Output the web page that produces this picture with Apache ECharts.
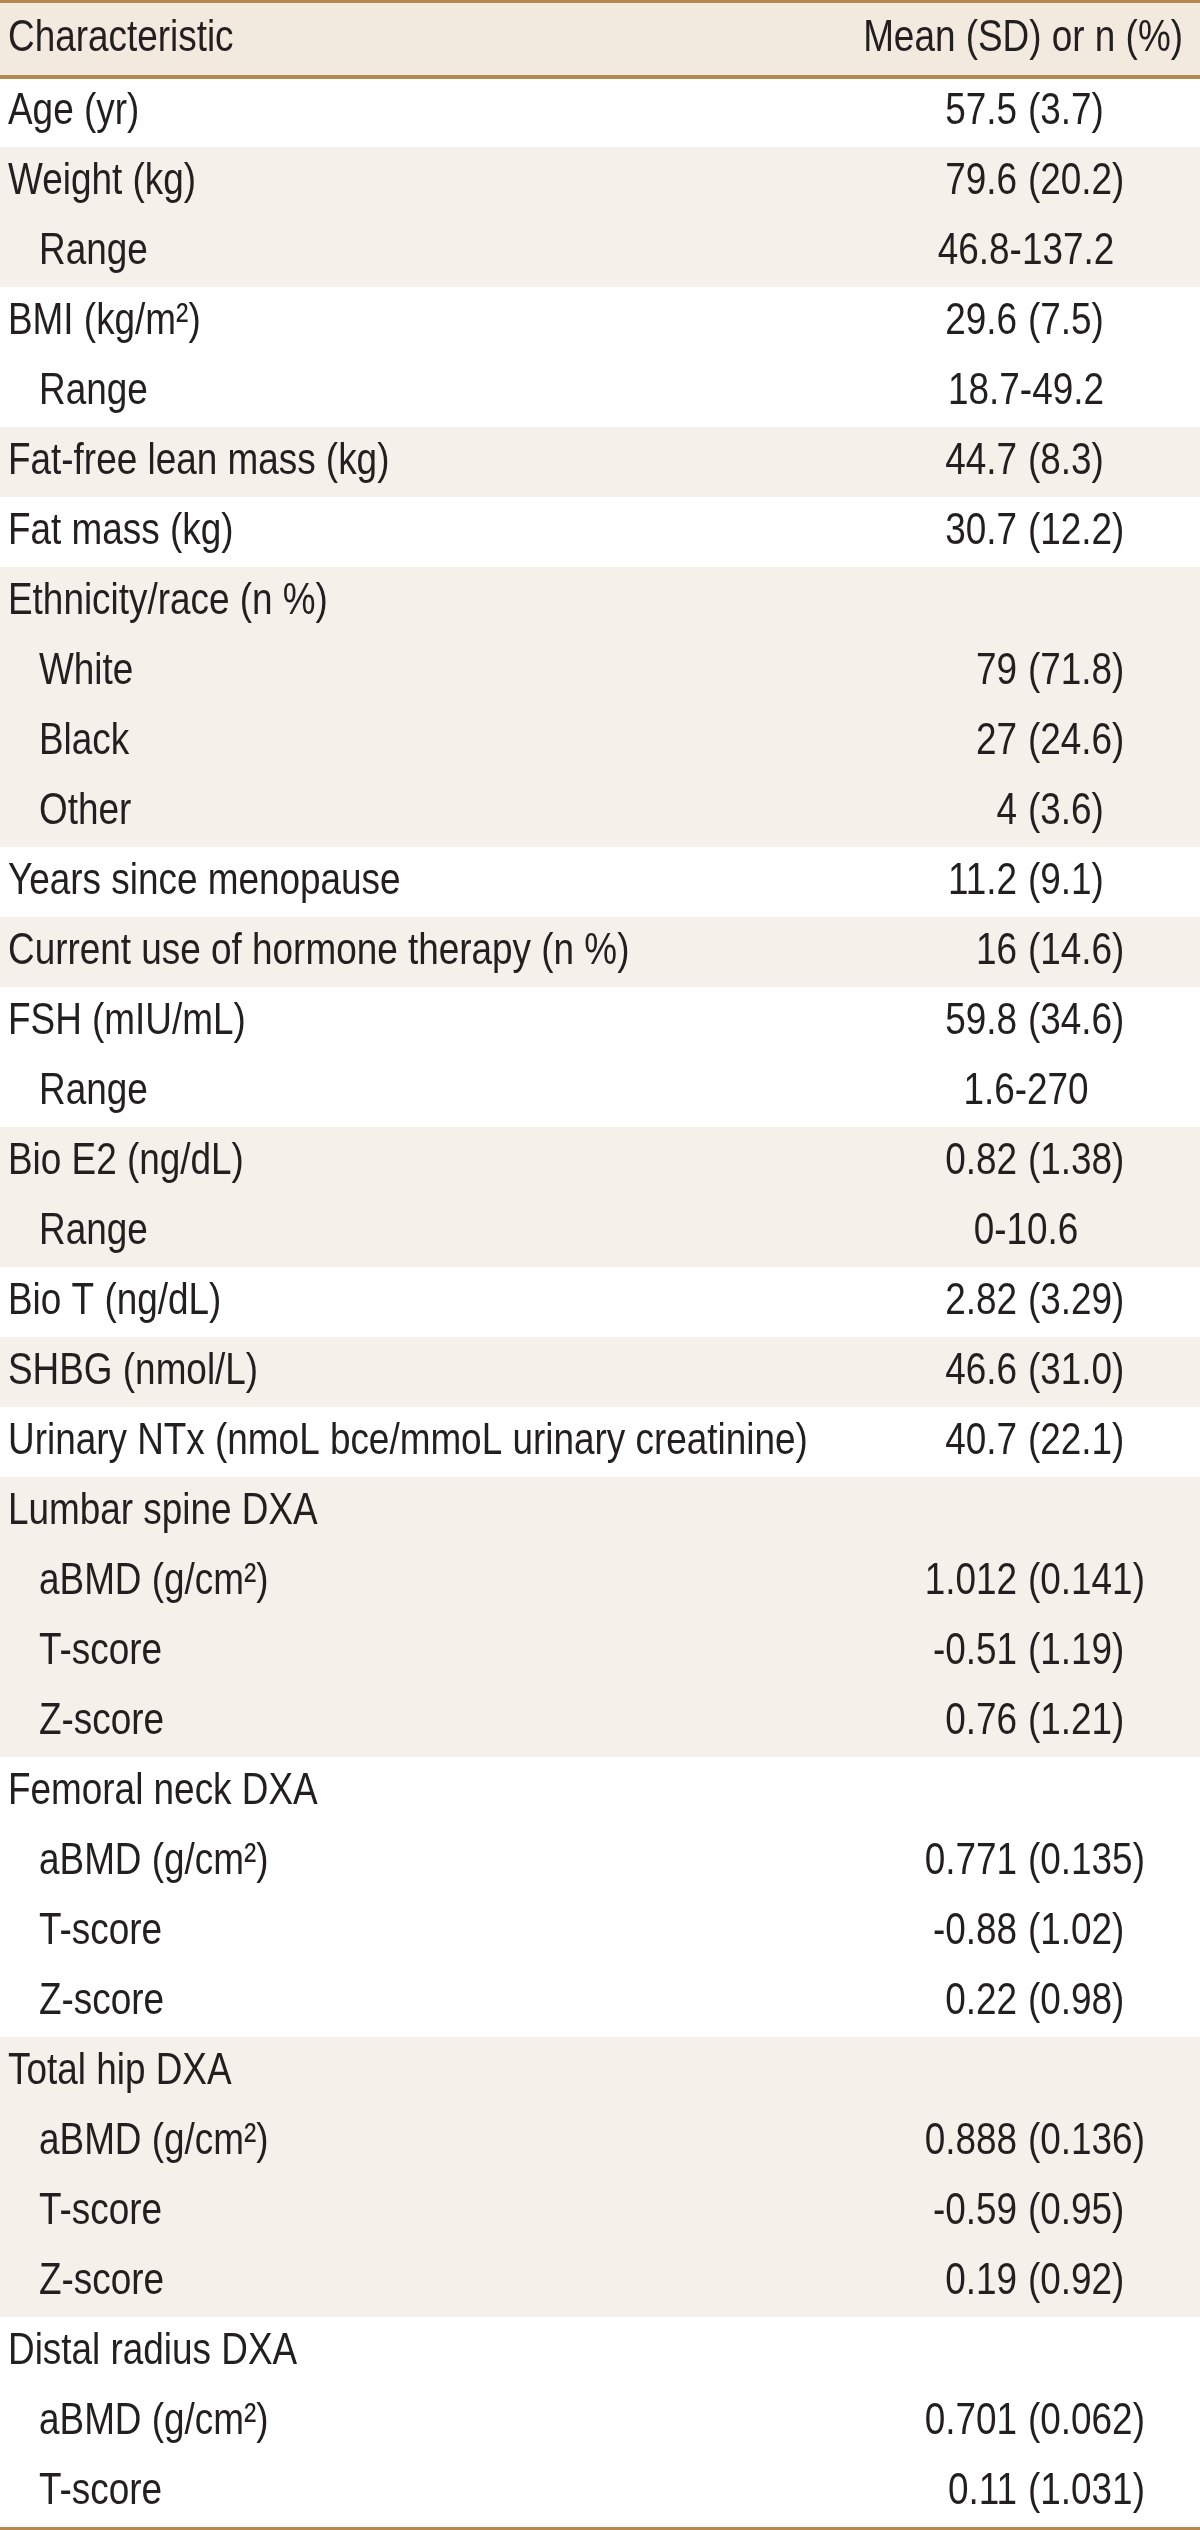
<!DOCTYPE html>
<html>
<head>
<meta charset="utf-8">
<script src="https://cdn.jsdelivr.net/npm/echarts@6/dist/echarts.min.js"></script>
<style>
html,body{margin:0;padding:0;background:#ffffff;}
#chart{width:1200px;height:2530px;}
</style>
</head>
<body>
<div id="chart"></div>
<script>
// ---- data ----
const headerLabels = ['Characteristic', 'Mean (SD) or n (%)'];

const rowLabels = [
  'Age (yr)', 'Weight (kg)', 'Range', 'BMI (kg/m\u00B2)', 'Range',
  'Fat-free lean mass (kg)', 'Fat mass (kg)', 'Ethnicity/race (n %)', 'White', 'Black', 'Other',
  'Years since menopause', 'Current use of hormone therapy (n %)',
  'FSH (mIU/mL)', 'Range', 'Bio E2 (ng/dL)', 'Range', 'Bio T (ng/dL)', 'SHBG (nmol/L)',
  'Urinary NTx (nmoL bce/mmoL urinary creatinine)',
  'Lumbar spine DXA', 'aBMD (g/cm\u00B2)', 'T-score', 'Z-score',
  'Femoral neck DXA', 'aBMD (g/cm\u00B2)', 'T-score', 'Z-score',
  'Total hip DXA', 'aBMD (g/cm\u00B2)', 'T-score', 'Z-score',
  'Distal radius DXA', 'aBMD (g/cm\u00B2)', 'T-score'
];

const rowValues = [
  '57.5 (3.7)', '79.6 (20.2)', '46.8-137.2', '29.6 (7.5)', '18.7-49.2',
  '44.7 (8.3)', '30.7 (12.2)', '', '79 (71.8)', '27 (24.6)', '4 (3.6)',
  '11.2 (9.1)', '16 (14.6)',
  '59.8 (34.6)', '1.6-270', '0.82 (1.38)', '0-10.6', '2.82 (3.29)', '46.6 (31.0)',
  '40.7 (22.1)',
  '', '1.012 (0.141)', '-0.51 (1.19)', '0.76 (1.21)',
  '', '0.771 (0.135)', '-0.88 (1.02)', '0.22 (0.98)',
  '', '0.888 (0.136)', '-0.59 (0.95)', '0.19 (0.92)',
  '', '0.701 (0.062)', '0.11 (1.031)'
];

// 0 = top-level item, 1 = sub-item
const rowLevels = [
  0, 0, 1, 0, 1,
  0, 0, 0, 1, 1, 1,
  0, 0,
  0, 1, 0, 1, 0, 0,
  0,
  0, 1, 1, 1,
  0, 1, 1, 1,
  0, 1, 1, 1,
  0, 1, 1
];

// ---- styles ----
const FONT = "'Liberation Sans', Arial, sans-serif";
const FS = 45;
const SQUEEZE = 0.82;
const TEXT = '#231f20';
const RULE = '#b5884f';
const HEAD_BG = '#f2eadf';
const BAND_BG = '#f5f0e9';
const LABEL_X = 8, INDENT = 31, PAREN_X = 1028, PAREN_GAP = 11, RANGE_X = 1026, HEAD_RIGHT = 1183;

// group shading derived from the hierarchy
const rowShade = [];
let g = -1;
rowLevels.forEach(l => { if (l === 0) g++; rowShade.push(g % 2); });

function txt(x, y, s, align) {
  return { type: 'text', x: x, y: y, scaleX: SQUEEZE, scaleY: 1,
    style: { x: 0, y: 0, text: s, fontSize: FS, fontFamily: FONT, fill: TEXT,
      textAlign: align, textVerticalAlign: 'middle', align: align, verticalAlign: 'middle' } };
}

const chart = echarts.init(document.getElementById('chart'), null, { renderer: 'canvas' });

const option = {
  animation: false,
  backgroundColor: '#ffffff',
  grid: [
    { left: 0, right: 0, top: 0, height: 77 },
    { left: 0, right: 0, top: 77, height: 2450 }
  ],
  xAxis: [
    { type: 'value', gridIndex: 0, min: 0, max: 1200, show: false },
    { type: 'value', gridIndex: 1, min: 0, max: 1200, show: false }
  ],
  yAxis: [
    { type: 'category', gridIndex: 0, data: ['header'], show: false },
    { type: 'category', gridIndex: 1, data: rowLabels.map((l, i) => i + ':' + l), inverse: true, show: false }
  ],
  series: [
    {
      type: 'custom', xAxisIndex: 0, yAxisIndex: 0, z: 3,
      data: [[0, 0]],
      renderItem: function (params, api) {
        const c = api.coord([0, 0]);
        const h = api.size([0, 1])[1];
        const x0 = api.coord([0, 0])[0];
        const x1 = api.coord([1200, 0])[0];
        const top = c[1] - h / 2;
        return { type: 'group', children: [
          { type: 'rect', shape: { x: x0, y: top, width: x1 - x0, height: h }, style: { fill: HEAD_BG } },
          { type: 'rect', shape: { x: x0, y: top, width: x1 - x0, height: 3 }, style: { fill: RULE } },
          { type: 'rect', shape: { x: x0, y: top + h - 2, width: x1 - x0, height: 4 }, style: { fill: RULE } },
          txt(api.coord([LABEL_X, 0])[0], c[1], headerLabels[0], 'left'),
          txt(api.coord([HEAD_RIGHT, 0])[0], c[1], headerLabels[1], 'right')
        ] };
      }
    },
    {
      type: 'custom', xAxisIndex: 1, yAxisIndex: 1, z: 2,
      data: rowLabels.map((l, i) => [0, i]),
      renderItem: function (params, api) {
        const i = params.dataIndex;
        const c = api.coord([0, i]);
        const h = api.size([0, 1])[1];
        const x0 = api.coord([0, i])[0];
        const x1 = api.coord([1200, i])[0];
        const top = c[1] - h / 2;
        const kids = [
          { type: 'rect', shape: { x: x0, y: top, width: x1 - x0, height: h }, style: { fill: rowShade[i] ? BAND_BG : '#ffffff' } },
          txt(api.coord([LABEL_X + INDENT * rowLevels[i], i])[0], c[1], rowLabels[i], 'left')
        ];
        const v = rowValues[i];
        if (v) {
          const p = v.indexOf(' (');
          if (p >= 0) {
            kids.push(txt(api.coord([PAREN_X - PAREN_GAP, i])[0], c[1], v.slice(0, p), 'right'));
            kids.push(txt(api.coord([PAREN_X, i])[0], c[1], v.slice(p + 1), 'left'));
          } else {
            kids.push(txt(api.coord([RANGE_X, i])[0], c[1], v, 'center'));
          }
        }
        if (i === rowLabels.length - 1) {
          kids.push({ type: 'rect', shape: { x: x0, y: top + h, width: x1 - x0, height: 3 }, style: { fill: RULE } });
        }
        return { type: 'group', children: kids };
      }
    }
  ]
};
chart.setOption(option);
</script>
</body>
</html>
